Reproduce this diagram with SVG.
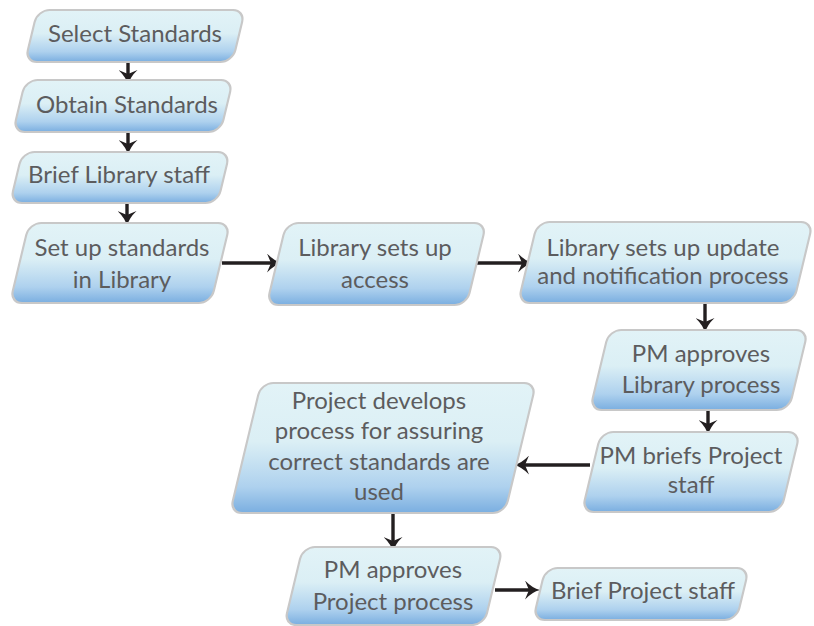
<svg xmlns="http://www.w3.org/2000/svg" width="814" height="626" viewBox="0 0 814 626">
  <style>
    .box { fill: url(#boxFill); stroke: #c8c8c8; stroke-width: 2.2; }
    .t { font-family: Lato, "Open Sans", "Liberation Sans", sans-serif; font-size: 24px; fill: #5c5c5e; text-anchor: middle; }
    .edge { stroke: #231f20; stroke-width: 3.4; fill: none; marker-end: url(#head); }
  </style>
  <defs>
    <linearGradient id="boxFill" x1="0" y1="0" x2="0" y2="1">
      <stop offset="0" stop-color="#e2f3f7"/>
      <stop offset="0.45" stop-color="#dbeff5"/>
      <stop offset="0.8" stop-color="#aed1ee"/>
      <stop offset="1" stop-color="#7aaee0"/>
    </linearGradient>
    <!-- swept-back arrowhead -->
    <marker id="head" viewBox="0 0 15 19" refX="6" refY="9.5" markerWidth="15" markerHeight="19" markerUnits="userSpaceOnUse" orient="auto">
      <path d="M15,9.5 Q7,7.5 0,0 L4,9.5 L0,19 Q7,11.5 15,9.5 Z" fill="#231f20"/>
    </marker>
  </defs>

  <!-- connectors -->
  <g id="connectors">
    <line class="edge" x1="128" y1="62" x2="128" y2="76"/>
    <line class="edge" x1="128" y1="132" x2="128" y2="146"/>
    <line class="edge" x1="127" y1="203" x2="127" y2="217"/>
    <line class="edge" x1="222" y1="263" x2="273" y2="263"/>
    <line class="edge" x1="477" y1="263" x2="524" y2="263"/>
    <line class="edge" x1="705" y1="303" x2="705" y2="324"/>
    <line class="edge" x1="708" y1="410" x2="708" y2="426"/>
    <line class="edge" x1="590" y1="465" x2="523" y2="465"/>
    <line class="edge" x1="393" y1="513" x2="393" y2="543"/>
    <line class="edge" x1="495" y1="590" x2="531" y2="590"/>
  </g>

  <!-- process steps: skewed rounded rectangles -->
  <g id="select-standards">
    <rect class="box" x="-103.75" y="-26" width="207.5" height="52" rx="12" transform="translate(135,36) skewX(-13.5)"/>
    <text class="t" x="135" y="42">Select Standards</text>
  </g>
  <g id="obtain-standards">
    <rect class="box" x="-103.75" y="-26" width="207.5" height="52" rx="12" transform="translate(123,106) skewX(-13.5)"/>
    <text class="t" x="127" y="113">Obtain Standards</text>
  </g>
  <g id="brief-library-staff">
    <rect class="box" x="-103.75" y="-25.5" width="207.5" height="51" rx="12" transform="translate(120,177.5) skewX(-13.5)"/>
    <text class="t" x="119" y="183">Brief Library staff</text>
  </g>
  <g id="setup-standards">
    <rect class="box" x="-100.5" y="-40" width="201" height="80" rx="12" transform="translate(120,263) skewX(-13.5)"/>
    <text class="t" x="122" y="256">Set up standards</text>
    <text class="t" x="122" y="288">in Library</text>
  </g>
  <g id="library-access">
    <rect class="box" x="-100" y="-41" width="200" height="82" rx="12" transform="translate(376.5,264) skewX(-13.5)"/>
    <text class="t" x="375" y="256">Library sets up</text>
    <text class="t" x="375" y="288">access</text>
  </g>
  <g id="library-update">
    <rect class="box" x="-137.75" y="-40.5" width="275.5" height="81" rx="12" transform="translate(665.5,262.5) skewX(-13.5)"/>
    <text class="t" x="663" y="256">Library sets up update</text>
    <text class="t" x="663" y="284">and notification process</text>
  </g>
  <g id="pm-approves-library">
    <rect class="box" x="-99.5" y="-40" width="199" height="80" rx="12" transform="translate(699,370) skewX(-13.5)"/>
    <text class="t" x="701" y="362">PM approves</text>
    <text class="t" x="701" y="393">Library process</text>
  </g>
  <g id="pm-briefs-project">
    <rect class="box" x="-99.5" y="-40" width="199" height="80" rx="12" transform="translate(691,472) skewX(-13.5)"/>
    <text class="t" x="691" y="464">PM briefs Project</text>
    <text class="t" x="691" y="493">staff</text>
  </g>
  <g id="project-develops">
    <rect class="box" x="-137.5" y="-65" width="275" height="130" rx="12" transform="translate(383,448) skewX(-13.5)"/>
    <text class="t" x="379" y="409">Project develops</text>
    <text class="t" x="379" y="439">process for assuring</text>
    <text class="t" x="379" y="470">correct standards are</text>
    <text class="t" x="379" y="500">used</text>
  </g>
  <g id="pm-approves-project">
    <rect class="box" x="-100" y="-39" width="200" height="78" rx="12" transform="translate(393.5,586) skewX(-13.5)"/>
    <text class="t" x="393" y="578">PM approves</text>
    <text class="t" x="393" y="610">Project process</text>
  </g>
  <g id="brief-project-staff">
    <rect class="box" x="-101.75" y="-26" width="203.5" height="52" rx="12" transform="translate(641,594) skewX(-13.5)"/>
    <text class="t" x="643" y="599">Brief Project staff</text>
  </g>
</svg>
